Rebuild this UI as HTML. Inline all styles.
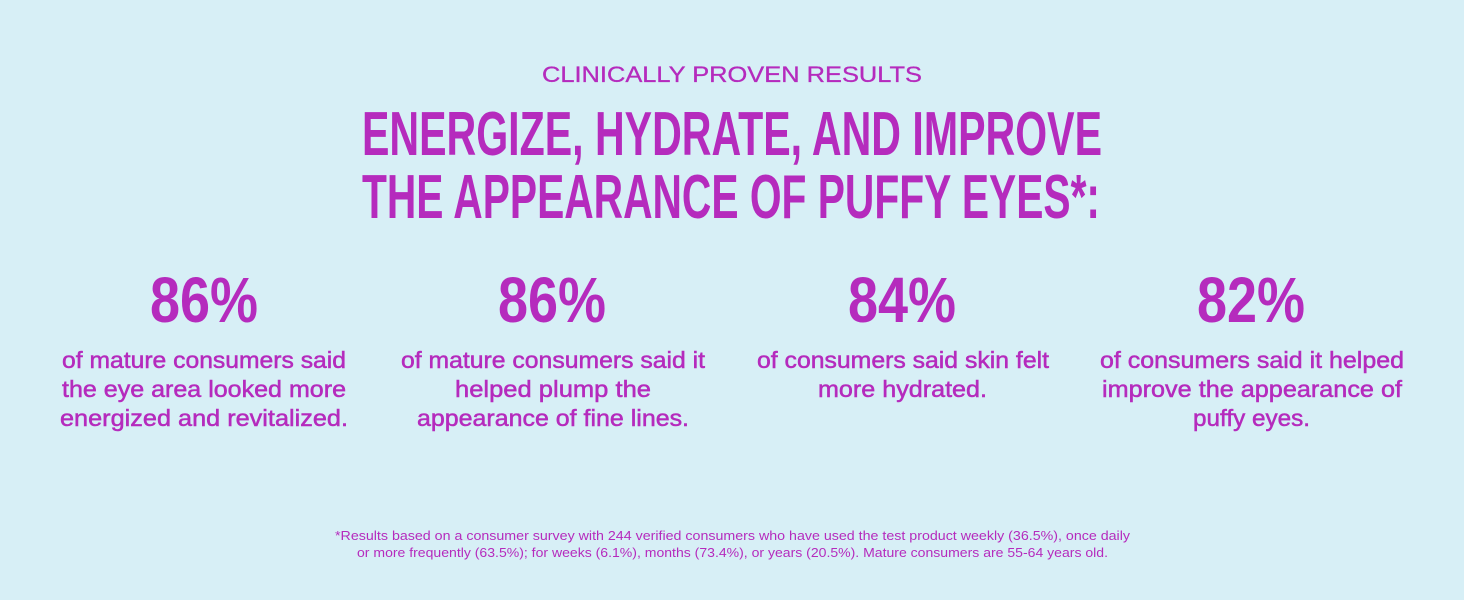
<!DOCTYPE html>
<html><head><meta charset="utf-8"><style>
html,body{margin:0;padding:0;background:#d7eff6;}
svg{display:block}
text{fill:#b52bbd;font-family:"Liberation Sans",sans-serif;}
.t{font-family:"Liberation Sans Narrow","Liberation Sans",sans-serif;font-weight:bold;font-size:62px}
.p{font-family:"Liberation Sans Narrow","Liberation Sans",sans-serif;font-weight:bold;font-size:64px}
.b{font-size:23px;stroke:#b52bbd;stroke-width:0.5px}
.f{font-size:13px}
</style></head><body>
<svg width="1464" height="600" viewBox="0 0 1464 600">
<text x="542" y="82" font-size="22" textLength="380" lengthAdjust="spacingAndGlyphs" stroke="#b52bbd" stroke-width="0.3">CLINICALLY PROVEN RESULTS</text>
<text class="t" x="362" y="155" textLength="740" lengthAdjust="spacingAndGlyphs">ENERGIZE, HYDRATE, AND IMPROVE</text>
<text class="t" x="362" y="218" textLength="738" lengthAdjust="spacingAndGlyphs">THE APPEARANCE OF PUFFY EYES*:</text>

<g>
<text class="p" x="150" y="322" textLength="108" lengthAdjust="spacingAndGlyphs">86%</text>
<text class="b" x="62" y="368" textLength="284" lengthAdjust="spacingAndGlyphs">of mature consumers said</text>
<text class="b" x="62" y="397" textLength="284" lengthAdjust="spacingAndGlyphs">the eye area looked more</text>
<text class="b" x="60" y="426" textLength="288" lengthAdjust="spacingAndGlyphs">energized and revitalized.</text>
</g>
<g>
<text class="p" x="498" y="322" textLength="108" lengthAdjust="spacingAndGlyphs">86%</text>
<text class="b" x="401" y="368" textLength="304" lengthAdjust="spacingAndGlyphs">of mature consumers said it</text>
<text class="b" x="455" y="397" textLength="196" lengthAdjust="spacingAndGlyphs">helped plump the</text>
<text class="b" x="417" y="426" textLength="272" lengthAdjust="spacingAndGlyphs">appearance of fine lines.</text>
</g>
<g>
<text class="p" x="848" y="322" textLength="108" lengthAdjust="spacingAndGlyphs">84%</text>
<text class="b" x="757" y="368" textLength="292" lengthAdjust="spacingAndGlyphs">of consumers said skin felt</text>
<text class="b" x="818" y="397" textLength="169" lengthAdjust="spacingAndGlyphs">more hydrated.</text>
</g>
<g>
<text class="p" x="1197" y="322" textLength="108" lengthAdjust="spacingAndGlyphs">82%</text>
<text class="b" x="1100" y="368" textLength="304" lengthAdjust="spacingAndGlyphs">of consumers said it helped</text>
<text class="b" x="1102" y="397" textLength="300" lengthAdjust="spacingAndGlyphs">improve the appearance of</text>
<text class="b" x="1193" y="426" textLength="117" lengthAdjust="spacingAndGlyphs">puffy eyes.</text>
</g>
<g>
<text class="f" x="335" y="540" textLength="795" lengthAdjust="spacingAndGlyphs">*Results based on a consumer survey with 244 verified consumers who have used the test product weekly (36.5%), once daily</text>
<text class="f" x="357" y="557" textLength="751" lengthAdjust="spacingAndGlyphs">or more frequently (63.5%); for weeks (6.1%), months (73.4%), or years (20.5%). Mature consumers are 55-64 years old.</text>
</g>
</svg>
</body></html>
